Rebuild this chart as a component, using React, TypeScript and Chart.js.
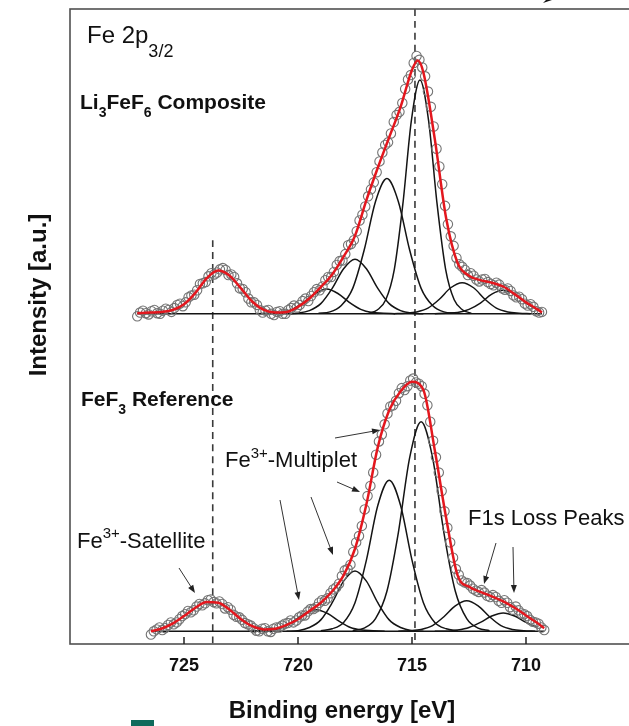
import React, { useEffect, useRef } from "react";
import { Chart, registerables } from "chart.js";

Chart.register(...registerables);

// ---------- axis ----------
const X_MIN = 705;
const X_MAX = 730;
const TICKS = [725, 720, 715, 710];
const Y_MIN = 0;
const Y_MAX = 100;

// ---------- shared ----------
const DATA_STEP = 0.25;
const MID_SHIFT = 0.125;
const OFFSETS = [-3, -2.5, -2, -1.5, -1, -0.5, 0, 0.5, 1, 1.5, 2, 2.5, 3];

// ---------- FeF3 reference (lower spectrum) ----------
const refStart = 726.45;
const refEnd = 709.2;
const refBase = 2.0;
const refData = [
  1.5, 2.3, 2.2, 3.0, 3.1, 3.9, 4.7, 5.0, 5.9, 6.1,
  6.9, 6.6, 6.7, 5.6, 5.4, 4.3, 3.8, 3.1, 2.5, 2.0,
  2.5, 1.9, 2.6, 2.9, 3.3, 3.4, 4.2, 4.5, 5.5, 5.8,
  6.9, 7.2, 8.6, 9.5, 11.6, 12.5, 16.0, 18.6, 23.3, 27.0,
  31.9, 34.6, 37.4, 38.3, 40.3, 40.6, 41.8, 41.0, 39.4, 35.0,
  29.4, 24.1, 18.3, 13.6, 10.9, 9.7, 9.2, 8.4, 8.5, 7.6,
  7.7, 6.8, 6.9, 5.8, 5.9, 4.8, 4.4, 3.5, 3.2, 2.2,
];
const refDataMid = [
  2.0, 2.6, 2.5, 3.4, 3.4, 4.4, 5.2, 5.3, 6.3, 6.4,
  7.0, 6.4, 6.3, 5.8, 4.6, 4.2, 3.3, 2.9, 2.1, 2.4,
  2.0, 2.4, 2.6, 3.2, 3.7, 3.7, 4.5, 5.1, 5.5, 6.5,
  6.8, 8.0, 8.9, 10.7, 11.8, 14.5, 17.0, 21.2, 24.9, 29.8,
  33.0, 36.3, 37.6, 39.5, 40.0, 41.5, 41.2, 40.6, 37.6, 32.0,
  27.0, 20.9, 16.0, 11.8, 10.0, 9.6, 8.7, 8.2, 8.1, 7.4,
  7.4, 6.5, 6.5, 5.4, 5.3, 4.7, 3.8, 3.4, 2.6,
];
const refEnvE = [
  726.45, 726.0, 725.5, 725.0, 724.5, 724.0, 723.5, 723.0, 722.5, 722.0,
  721.5, 721.0, 720.5, 720.0, 719.5, 719.0, 718.5, 718.0, 717.5, 717.0,
  716.5, 716.0, 715.5, 715.0, 714.5, 714.0, 713.5, 713.0, 712.5, 712.0,
  711.5, 711.0, 710.5, 710.0, 709.5, 709.2,
];
const refEnvI = [
  2.0, 2.4, 3.2, 4.4, 5.7, 6.6, 6.5, 5.4, 3.9, 2.8,
  2.3, 2.4, 3.0, 3.9, 5.2, 6.5, 8.3, 10.8, 15.0, 22.0,
  31.0, 36.8, 39.8, 41.3, 40.0, 30.5, 19.8, 10.8, 9.0, 8.2,
  7.5, 6.7, 5.7, 4.5, 3.3, 2.5,
];
const refCenters = [714.6, 716.0, 717.5, 719.2, 712.6, 711.0];
const refSpread = [1, 1, 1, 1, 1, 1];
const refCompA = [2.1, 2.5, 4.0, 8.3, 17.5, 29.4, 35.0, 29.4, 17.5, 8.3, 4.0, 2.5, 2.1];
const refCompB = [2.1, 2.4, 3.4, 6.5, 13.2, 21.8, 25.8, 21.8, 13.2, 6.5, 3.4, 2.4, 2.1];
const refCompC = [2.0, 2.1, 2.6, 3.8, 6.5, 9.9, 11.5, 9.9, 6.5, 3.8, 2.6, 2.1, 2.0];
const refCompD = [2.0, 2.1, 2.2, 2.6, 3.6, 4.8, 5.4, 4.8, 3.6, 2.6, 2.2, 2.1, 2.0];
const refCompE = [2.0, 2.1, 2.3, 2.9, 4.3, 6.0, 6.8, 6.0, 4.3, 2.9, 2.3, 2.1, 2.0];
const refCompF = [2.0, 2.0, 2.2, 2.6, 3.4, 4.4, 4.9, 4.4, 3.4, 2.6, 2.2, 2.0, 2.0];

// ---------- Li3FeF6 composite (upper spectrum) ----------
const compStart = 727.05;
const compEnd = 709.3;
const compBase = 52.0;
const compData = [
  51.6, 52.5, 51.9, 52.6, 52.0, 52.8, 52.3, 53.4, 53.2, 54.6,
  55.0, 56.7, 57.0, 58.4, 58.5, 59.2, 58.1, 57.8, 56.0, 55.4,
  53.8, 53.4, 52.2, 52.6, 51.8, 52.4, 52.0, 52.9, 53.0, 54.0,
  54.0, 55.4, 55.7, 57.3, 57.8, 59.7, 60.4, 62.8, 63.6, 66.7,
  68.9, 71.6, 74.3, 77.4, 79.0, 82.2, 83.8, 87.4, 89.6, 92.6,
  90.8, 87.0, 81.5, 75.2, 69.0, 64.2, 60.8, 59.4, 58.1, 58.0,
  57.1, 57.5, 56.7, 56.9, 56.0, 56.0, 54.9, 54.7, 53.6, 53.5,
  52.4, 52.3,
];
const compDataMid = [
  52.2, 52.1, 52.4, 52.1, 52.5, 52.6, 52.9, 53.6, 53.8, 54.9,
  55.7, 56.8, 57.9, 58.2, 59.0, 58.9, 58.2, 56.8, 55.9, 54.4,
  53.8, 52.6, 52.5, 52.0, 52.3, 52.0, 52.6, 53.3, 53.4, 54.4,
  54.8, 55.9, 56.3, 57.8, 58.6, 60.3, 61.4, 63.0, 65.0, 67.6,
  70.5, 72.7, 76.0, 78.6, 80.4, 83.3, 85.2, 88.9, 91.5, 92.0,
  89.4, 84.6, 78.0, 72.4, 66.1, 62.7, 59.8, 58.9, 58.4, 57.4,
  57.4, 57.0, 56.5, 56.6, 55.8, 55.6, 54.6, 54.3, 53.3, 53.1,
  52.2,
];
const compEnvE = [
  727.05, 726.5, 726.0, 725.5, 725.0, 724.5, 724.0, 723.5, 723.0, 722.5,
  722.0, 721.5, 721.0, 720.5, 720.0, 719.5, 719.0, 718.5, 718.0, 717.5,
  717.0, 716.5, 716.0, 715.5, 715.0, 714.75, 714.5, 714.0, 713.5, 713.0,
  712.5, 712.0, 711.5, 711.0, 710.5, 710.0, 709.5, 709.3,
];
const compEnvI = [
  52.1, 52.2, 52.3, 52.6, 53.5, 55.3, 57.6, 58.8, 58.0, 56.0,
  53.9, 52.6, 52.2, 52.3, 53.1, 54.4, 56.2, 58.2, 61.0, 64.3,
  69.9, 75.0, 79.8, 84.6, 90.4, 91.9, 90.0, 79.5, 67.0, 60.0,
  58.0, 57.3, 56.9, 56.3, 55.1, 53.8, 52.7, 52.2,
];
const compCenters = [714.65, 716.1, 717.5, 718.75, 712.8, 711.0];
const compSpread = [0.75, 1, 1, 1, 1, 1];
const compCompA = [52.1, 52.6, 54.2, 59.0, 69.3, 82.5, 88.8, 82.5, 69.3, 59.0, 54.2, 52.6, 52.1];
const compCompB = [52.1, 52.3, 53.3, 56.0, 62.0, 69.7, 73.3, 69.7, 62.0, 56.0, 53.3, 52.3, 52.1];
const compCompC = [52.0, 52.1, 52.5, 53.6, 56.0, 59.1, 60.6, 59.1, 56.0, 53.6, 52.5, 52.1, 52.0];
const compCompD = [52.0, 52.1, 52.2, 52.7, 53.8, 55.2, 55.9, 55.2, 53.8, 52.7, 52.2, 52.1, 52.0];
const compCompE = [52.0, 52.1, 52.3, 52.9, 54.3, 56.1, 56.9, 56.1, 54.3, 52.9, 52.3, 52.1, 52.0];
const compCompF = [52.0, 52.1, 52.2, 52.7, 53.7, 55.1, 55.7, 55.1, 53.7, 52.7, 52.2, 52.1, 52.0];

// ---------- reference lines ----------
const dashedE = [714.87, 723.74];
const dashedTop = [100, 63.6];

const FONT = '"Liberation Sans", Arial, Helvetica, sans-serif';
const RED = "#e3171e";
const CIRCLE = "#737373";
const BLACK = "#141414";

type Pt = { x: number; y: number };

function pts(xs: number[], ys: number[]): Pt[] {
  return xs.map((x, i) => ({ x, y: ys[i] }));
}

function dataPts(start: number, values: number[]): Pt[] {
  return values.map((v, i) => ({ x: start - i * DATA_STEP, y: v }));
}

function compPts(center: number, spread: number, ys: number[], lo: number, hi: number): Pt[] {
  return OFFSETS.map((o, i) => ({ x: center + o * spread, y: ys[i] })).filter(
    (p) => p.x >= lo - 1e-6 && p.x <= hi + 1e-6
  );
}

function lineDs(data: Pt[], color: string, width: number, order: number, extra: any = {}) {
  return {
    data,
    borderColor: color,
    backgroundColor: color,
    borderWidth: width,
    pointRadius: 0,
    pointHoverRadius: 0,
    fill: false,
    cubicInterpolationMode: "monotone",
    order,
    ...extra,
  };
}

type Part = { t: string; size: number; bold?: boolean; dy?: number };

function drawRich(ctx: CanvasRenderingContext2D, x: number, y: number, parts: Part[]) {
  let cx = x;
  for (const p of parts) {
    ctx.font = `${p.bold ? "bold " : ""}${p.size}px ${FONT}`;
    ctx.fillText(p.t, cx, y + (p.dy || 0));
    cx += ctx.measureText(p.t).width;
  }
}

function arrow(ctx: CanvasRenderingContext2D, x1: number, y1: number, x2: number, y2: number) {
  const ang = Math.atan2(y2 - y1, x2 - x1);
  const L = 8;
  const W = 3;
  ctx.beginPath();
  ctx.moveTo(x1, y1);
  ctx.lineTo(x2 - (L - 2) * Math.cos(ang), y2 - (L - 2) * Math.sin(ang));
  ctx.stroke();
  ctx.beginPath();
  ctx.moveTo(x2, y2);
  ctx.lineTo(x2 - L * Math.cos(ang) + W * Math.sin(ang), y2 - L * Math.sin(ang) - W * Math.cos(ang));
  ctx.lineTo(x2 - L * Math.cos(ang) - W * Math.sin(ang), y2 - L * Math.sin(ang) + W * Math.cos(ang));
  ctx.closePath();
  ctx.fill();
}

const decorPlugin = {
  id: "decor",
  afterDraw(chart: any) {
    const { ctx, chartArea: a, scales } = chart;
    const xs = scales.x;
    ctx.save();

    // frame
    ctx.strokeStyle = "#505050";
    ctx.lineWidth = 1.6;
    ctx.strokeRect(a.left, a.top, a.right - a.left, a.bottom - a.top);

    // inward ticks
    ctx.strokeStyle = "#222";
    ctx.lineWidth = 1.5;
    TICKS.forEach((v) => {
      const x = xs.getPixelForValue(v);
      ctx.beginPath();
      ctx.moveTo(x, a.bottom);
      ctx.lineTo(x, a.bottom - 7);
      ctx.stroke();
    });

    ctx.fillStyle = "#111";
    ctx.textBaseline = "alphabetic";
    ctx.textAlign = "left";

    // panel labels
    drawRich(ctx, 87, 43, [
      { t: "Fe 2p", size: 24 },
      { t: "3/2", size: 18, dy: 14 },
    ]);
    drawRich(ctx, 80, 109, [
      { t: "Li", size: 21, bold: true },
      { t: "3", size: 14, bold: true, dy: 8 },
      { t: "FeF", size: 21, bold: true },
      { t: "6", size: 14, bold: true, dy: 8 },
      { t: " Composite", size: 21, bold: true },
    ]);
    drawRich(ctx, 81, 406, [
      { t: "FeF", size: 21, bold: true },
      { t: "3", size: 14, bold: true, dy: 8 },
      { t: " Reference", size: 21, bold: true },
    ]);

    // annotations
    drawRich(ctx, 225, 467, [
      { t: "Fe", size: 22 },
      { t: "3+", size: 15, dy: -9 },
      { t: "-Multiplet", size: 22 },
    ]);
    drawRich(ctx, 77, 548, [
      { t: "Fe", size: 22 },
      { t: "3+", size: 15, dy: -10 },
      { t: "-Satellite", size: 22 },
    ]);
    drawRich(ctx, 468, 525, [{ t: "F1s Loss Peaks", size: 22 }]);

    // arrows
    ctx.strokeStyle = "#333";
    ctx.fillStyle = "#222";
    ctx.lineWidth = 1;
    arrow(ctx, 179, 568, 195, 593);
    arrow(ctx, 280, 500, 299, 600);
    arrow(ctx, 311, 497, 333, 555);
    arrow(ctx, 337, 482, 360, 492);
    arrow(ctx, 335, 438, 380, 430);
    arrow(ctx, 496, 543, 484, 584);
    arrow(ctx, 513, 547, 514, 593);

    // axis titles
    ctx.fillStyle = "#111";
    ctx.font = `bold 24px ${FONT}`;
    ctx.textAlign = "center";
    ctx.fillText("Binding energy [eV]", 342, 718);
    ctx.save();
    ctx.translate(46, 295);
    ctx.rotate(-Math.PI / 2);
    ctx.fillText("Intensity [a.u.]", 0, 0);
    ctx.restore();

    // page artefacts of the original figure
    ctx.fillStyle = "#0f6b5c";
    ctx.fillRect(131, 720, 23, 6);
    ctx.fillStyle = "#111";
    ctx.beginPath();
    ctx.moveTo(543, 3);
    ctx.lineTo(552, 0);
    ctx.lineTo(546, 0);
    ctx.closePath();
    ctx.fill();

    ctx.restore();
  },
};

export default function App() {
  const ref = useRef<HTMLCanvasElement | null>(null);

  useEffect(() => {
    if (!ref.current) return;

    const refComps = [refCompA, refCompB, refCompC, refCompD, refCompE, refCompF];
    const compComps = [compCompA, compCompB, compCompC, compCompD, compCompE, compCompF];

    const datasets: any[] = [];
    // envelopes (top-most)
    datasets.push(lineDs(pts(refEnvE, refEnvI), RED, 2.5, 0));
    datasets.push(lineDs(pts(compEnvE, compEnvI), RED, 2.5, 0));
    // measured points
    const circleOpts = {
      showLine: false,
      pointRadius: 4.7,
      pointHoverRadius: 4.7,
      pointStyle: "circle",
      pointBorderColor: CIRCLE,
      pointBackgroundColor: "rgba(0,0,0,0)",
      pointBorderWidth: 1.1,
    };
    datasets.push({ data: dataPts(refStart, refData), order: 1, ...circleOpts });
    datasets.push({ data: dataPts(refStart - MID_SHIFT, refDataMid), order: 1, ...circleOpts });
    datasets.push({ data: dataPts(compStart, compData), order: 1, ...circleOpts });
    datasets.push({ data: dataPts(compStart - MID_SHIFT, compDataMid), order: 1, ...circleOpts });
    // components
    refComps.forEach((ys, k) => {
      datasets.push(lineDs(compPts(refCenters[k], refSpread[k], ys, refEnd, refStart), BLACK, 1.5, 2));
    });
    compComps.forEach((ys, k) => {
      datasets.push(lineDs(compPts(compCenters[k], compSpread[k], ys, compEnd, compStart), BLACK, 1.5, 2));
    });
    // baselines
    datasets.push(lineDs(pts([refStart, refEnd], [refBase, refBase]), BLACK, 1.6, 3));
    datasets.push(lineDs(pts([compStart, compEnd], [compBase, compBase]), BLACK, 1.6, 3));
    // dashed reference lines
    dashedE.forEach((e, k) => {
      datasets.push(
        lineDs(pts([e, e], [dashedTop[k], Y_MIN]), "#3a3a3a", 1.6, 4, { borderDash: [7, 5] })
      );
    });

    const chart = new Chart(ref.current, {
      type: "line",
      data: { datasets },
      options: {
        animation: false,
        responsive: false,
        devicePixelRatio: 1,
        events: [],
        layout: { padding: { left: 0, right: 20, top: 9, bottom: 0 } },
        plugins: {
          legend: { display: false },
          tooltip: { enabled: false },
        },
        scales: {
          x: {
            type: "linear",
            min: X_MIN,
            max: X_MAX,
            reverse: true,
            grid: { display: false, drawTicks: false },
            border: { display: false },
            ticks: {
              stepSize: 5,
              padding: 11,
              maxRotation: 0,
              color: "#111",
              font: { family: FONT, size: 18, weight: "bold" },
              callback: (v: any) => (TICKS.includes(Number(v)) ? String(v) : ""),
            },
            afterFit: (scale: any) => {
              scale.height = 82;
            },
          },
          y: {
            type: "linear",
            min: Y_MIN,
            max: Y_MAX,
            grid: { display: false, drawTicks: false },
            border: { display: false },
            ticks: { display: false },
            afterFit: (scale: any) => {
              scale.width = 70;
            },
          },
        },
      } as any,
      plugins: [decorPlugin],
    });

    return () => chart.destroy();
  }, []);

  return (
    <div
      style={{
        position: "fixed",
        left: 0,
        top: 0,
        width: 629,
        height: 726,
        overflow: "hidden",
        background: "#fff",
      }}
    >
      <canvas ref={ref} width={660} height={726} style={{ display: "block" }} />
    </div>
  );
}
